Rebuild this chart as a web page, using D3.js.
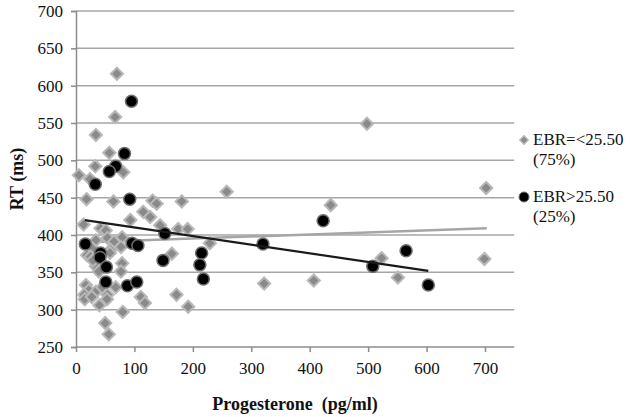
<!DOCTYPE html>
<html><head><meta charset="utf-8">
<script src="https://cdn.jsdelivr.net/npm/d3@7"></script>
<style>body{margin:0;background:#fff}svg{display:block}</style>
</head><body>
<svg id="c" width="630" height="417"></svg>
<script>
// Data (Progesterone pg/ml, RT ms)
const lowEBR = [
 [70,616],[67,558],[34,534],[57,510],[33,492],[81,484],[5,480],[24,475],[18,448],[64,445],
 [131,446],[138,442],[181,445],[258,458],[115,431],[127,424],[93,420],[13,414],[144,413],[175,408],[191,408],
 [42,409],[51,406],[54,396],[79,397],[34,393],[65,391],[28,382],[77,384],[19,373],[25,371],[59,380],[58,376],
 [164,375],[229,389],[79,362],[34,358],[77,351],[39,351],[29,366],
 [17,333],[22,326],[68,330],[54,320],[14,320],[34,324],[45,330],
 [111,317],[118,309],[172,320],[15,314],[27,317],[53,314],[40,306],[192,304],[80,297],[50,282],[56,267],
 [498,549],[702,463],[436,440],[523,369],[699,368],[551,343],[322,335],[407,339]
];
const highEBR = [
 [95,579],[83,509],[68,492],[57,485],[33,468],[92,448],[16,388],[96,389],[106,386],[42,376],[41,370],
 [52,357],[51,337],[88,332],[104,337],[152,402],[149,366],[215,376],[212,360],[218,341],[320,388],
 [423,419],[508,358],[565,379],[603,333]
];
const trendLow = [[5,390],[703,409]];
const trendHigh = [[15,420],[603,352]];
const xTicks = [0,100,200,300,400,500,600,700];
const yTicks = [250,300,350,400,450,500,550,600,650,700];
const legendLabels = [["EBR=<25.50","(75%)"],["EBR>25.50","(25%)"]];

const svg = d3.select("#c");
const x = d3.scaleLinear().domain([0,750]).range([76,514.2]);
const y = d3.scaleLinear().domain([250,700]).range([347,11]);
const font = "'Liberation Serif','Times New Roman',serif";

// gridlines
svg.append("g").selectAll("line").data(yTicks.filter(d=>d>250)).join("line")
 .attr("x1",x(0)).attr("x2",x(750)).attr("y1",d=>y(d)).attr("y2",d=>y(d))
 .attr("stroke","#a6a6a6").attr("stroke-width",1.5);

// axes
const yAxis = d3.axisLeft(y).tickValues(yTicks).tickSize(5).tickPadding(8);
const gy = svg.append("g").attr("transform",`translate(${x(0)},0)`).call(yAxis);
const xAxis = d3.axisBottom(x).tickValues(xTicks).tickSize(5).tickPadding(10);
const gx = svg.append("g").attr("transform",`translate(0,${y(250)})`).call(xAxis);
[gx,gy].forEach(g=>{
  g.select(".domain").attr("stroke","#8c8c8c").attr("stroke-width",1.5);
  g.selectAll(".tick line").attr("stroke","#8c8c8c").attr("stroke-width",1.5);
  g.selectAll("text").attr("font-family",font).attr("font-size",17).attr("fill","#111");
});
gx.select(".domain").attr("d",`M${x(0)},0H${x(750)}`);

// trend lines
const line = d3.line().x(d=>x(d[0])).y(d=>y(d[1]));
svg.append("path").attr("d",line(trendLow)).attr("stroke","#a6a6a6").attr("stroke-width",2.5).attr("fill","none");

// diamonds
const diamond = d3.symbol().type(d3.symbolDiamond2).size(95);
svg.append("g").selectAll("path").data(lowEBR).join("path")
 .attr("d",diamond).attr("transform",d=>`translate(${x(d[0])},${y(d[1])})`)
 .attr("fill","#8a8a8a").attr("stroke","#b8b8b8").attr("stroke-width",2);

// circles
svg.append("g").selectAll("circle").data(highEBR).join("circle")
 .attr("cx",d=>x(d[0])).attr("cy",d=>y(d[1])).attr("r",6)
 .attr("fill","#000").attr("stroke","#6e6e6e").attr("stroke-width",1.5);

svg.append("path").attr("d",line(trendHigh)).attr("stroke","#1a1a1a").attr("stroke-width",2.2).attr("fill","none");

// titles
svg.append("text").attr("x",295).attr("y",410).attr("text-anchor","middle")
 .attr("font-family",font).attr("font-weight","bold").attr("font-size",18).attr("fill","#111")
 .attr("xml:space","preserve").text("Progesterone  (pg/ml)");
svg.append("text").attr("transform","translate(23,179) rotate(-90)").attr("text-anchor","middle")
 .attr("font-family",font).attr("font-weight","bold").attr("font-size",18).attr("fill","#111")
 .text("RT (ms)");

// legend
const lg = svg.append("g");
lg.append("path").attr("d",d3.symbol().type(d3.symbolDiamond2).size(45)).attr("transform","translate(524,140)")
 .attr("fill","#8a8a8a").attr("stroke","#b8b8b8").attr("stroke-width",1.5);
lg.append("circle").attr("cx",524).attr("cy",197).attr("r",5).attr("fill","#000").attr("stroke","#6e6e6e").attr("stroke-width",1);
legendLabels.forEach((lab,i)=>{
  const by = i===0 ? 145 : 202;
  lab.forEach((t,j)=>{
    lg.append("text").attr("x",533).attr("y",by+j*20).attr("font-family",font).attr("font-size",17).attr("fill","#111").text(t);
  });
});
</script>
</body></html>
